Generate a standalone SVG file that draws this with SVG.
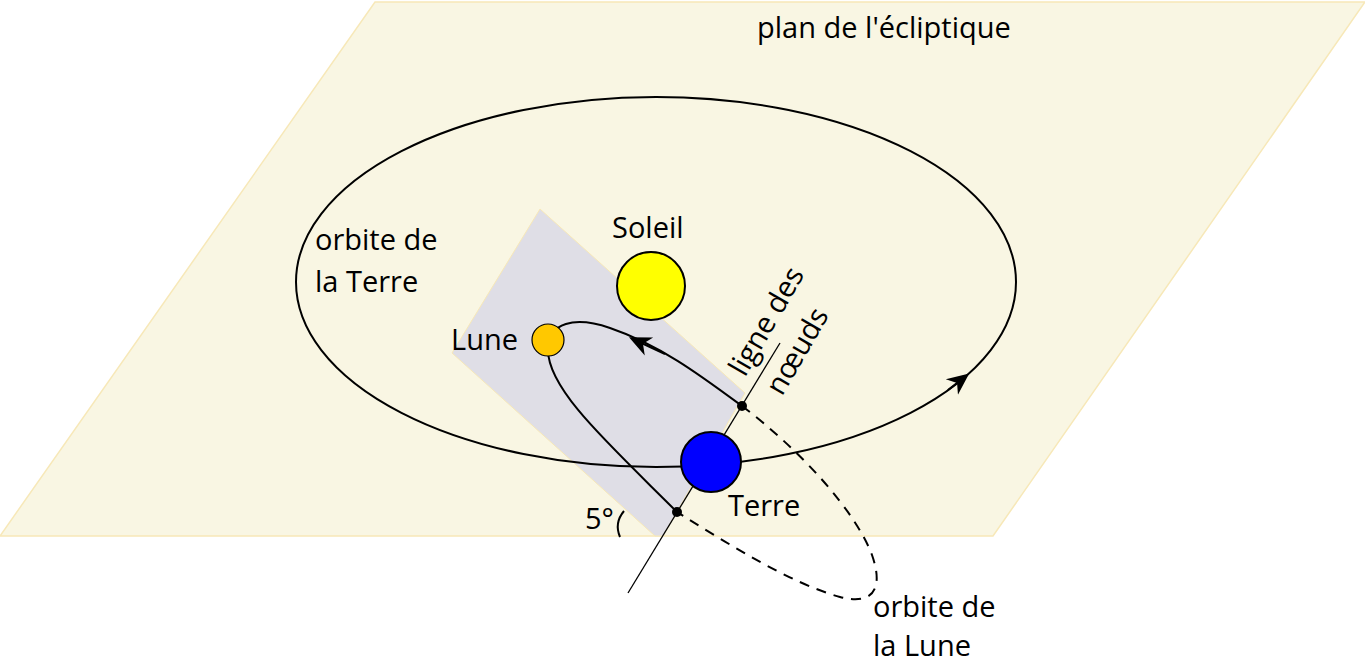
<svg xmlns="http://www.w3.org/2000/svg" width="1365" height="663" viewBox="0 0 1365 663">
<style>
text{font-family:"Open Sans","Noto Sans",sans-serif;font-size:29px;fill:#000}
.o{fill:none;stroke:#000;stroke-width:2}
</style>
<defs>
<marker id="a" viewBox="0 0 10 10" refX="7" refY="5" markerWidth="22" markerHeight="22" markerUnits="userSpaceOnUse" orient="auto"><path d="M0 0.5 L10 5 L0 9.5 L3 5 Z"/></marker>
</defs>
<g id="ecliptique"><polygon points="375,2 1365,2 993,536 0,536" fill="#f9f6e3" stroke="#f7e8b8" stroke-width="1.5"/></g>
<g id="plan-lune"><polygon points="540,209 745,393 663,536 655,536 452,353" fill="#dfdee6" stroke="#f7e8b8" stroke-width="1"/></g>
<g id="connectors">
<ellipse class="o" cx="656" cy="282" rx="360" ry="185"/>
<path class="o" d="M948 390 L964 377.5" marker-end="url(#a)"/>
<path d="M628 593 L780 343" stroke="#000" stroke-width="1.3"/>
<path class="o" d="M677 512 C610 445 548 390 548 350 C548 322 575 316 610 328 C660 345 700 375 742 406"/>
<path class="o" d="M742 406 C800 450 855 510 872 555 C885 592 870 605 840 597 C790 583 730 545 677 512" stroke-dasharray="10,8" stroke-width="1.5"/>
<path class="o" d="M665 354 L635 340" marker-end="url(#a)"/>
<path class="o" d="M624 511 Q614 523 620 537" stroke-width="1.2"/>
<circle cx="742" cy="406" r="5"/>
<circle cx="677" cy="512" r="5"/>
</g>
<g id="soleil"><circle cx="651" cy="286" r="34" fill="#ffff00" stroke="#000" stroke-width="2"/><text x="612" y="238">Soleil</text></g>
<g id="lune"><circle cx="548" cy="340" r="16" fill="#ffc800" stroke="#000" stroke-width="1.2"/><text x="451" y="350">Lune</text></g>
<g id="terre"><circle cx="711" cy="462" r="30" fill="#0000ff" stroke="#000" stroke-width="2"/><text x="728" y="516">Terre</text></g>
<g id="labels">
<text x="757" y="38">plan de l'écliptique</text>
<text x="315" y="250">orbite de</text>
<text x="315" y="292">la Terre</text>
<text x="873" y="617">orbite de</text>
<text x="873" y="656">la Lune</text>
<text x="585" y="529">5°</text>
<text transform="translate(745,378) rotate(-60)">ligne des</text>
<text transform="translate(782,397) rotate(-60)">nœuds</text>
</g>
</svg>
